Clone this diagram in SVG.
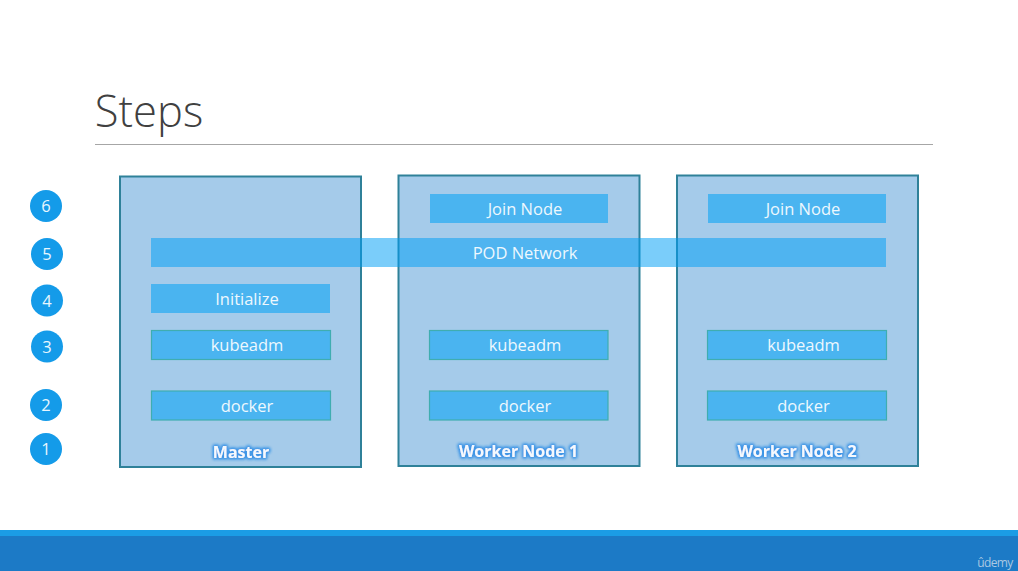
<svg xmlns="http://www.w3.org/2000/svg" width="1018" height="571" viewBox="0 0 1018 571">
  <defs>
    <filter id="glow" x="-20%" y="-60%" width="140%" height="220%">
      <feMorphology in="SourceAlpha" operator="dilate" radius="0.8" result="d"/>
      <feGaussianBlur in="d" stdDeviation="1.5" result="b"/>
      <feFlood flood-color="#3f96e6"/>
      <feComposite in2="b" operator="in" result="c"/>
      <feMerge><feMergeNode in="c"/><feMergeNode in="c"/><feMergeNode in="SourceGraphic"/></feMerge>
    </filter>
  </defs>
  <style>
    text { font-family: "Open Sans", "Noto Sans", "Liberation Sans", sans-serif; text-anchor: middle; }
    .node { fill: #a5cbea; stroke: #2f8199; stroke-width: 2; }
    .bar { fill: #4ab4f0; }
    .edged { fill: #4ab4f0; stroke: #3fadb0; stroke-width: 1.2; }
    .label { fill: #eef8fe; font-size: 16.500px; }
    .name { fill: #f4f9fe; font-size: 16px; font-weight: 700; filter: url(#glow); }
    .step { fill: #149be9; }
    .num { fill: #e8f6fe; font-size: 16.500px; }
  </style>
  <rect width="1018" height="571" fill="#ffffff"/>
  <text id="title" x="149" y="127" style="font-size:43.500px;font-weight:300" fill="#404040">Steps</text>
  <rect x="95" y="144" width="838" height="1" fill="#a6a6a6"/>
  <g id="footer">
    <rect x="0" y="530" width="1018" height="6" fill="#1b9ce5"/>
    <rect x="0" y="536" width="1018" height="35" fill="#1c7ac6"/>
    <text x="995" y="567" style="font-size:12px;letter-spacing:-0.600px" fill="#a9c8e2">ûdemy</text>
  </g>
  <g id="steps">
    <g id="step-6"><circle class="step" cx="46" cy="206" r="16"/><text class="num" x="46" y="212">6</text></g>
    <g id="step-5"><circle class="step" cx="47" cy="254" r="16"/><text class="num" x="47" y="260">5</text></g>
    <g id="step-4"><circle class="step" cx="47" cy="300.500" r="16"/><text class="num" x="47" y="306.500">4</text></g>
    <g id="step-3"><circle class="step" cx="47" cy="346.500" r="16"/><text class="num" x="47" y="352.500">3</text></g>
    <g id="step-2"><circle class="step" cx="46" cy="405" r="16"/><text class="num" x="46" y="411">2</text></g>
    <g id="step-1"><circle class="step" cx="46" cy="449" r="16"/><text class="num" x="46" y="455">1</text></g>
  </g>
  <g id="master">
    <rect class="node" x="120" y="176.500" width="241" height="290.500"/>
    <rect class="bar" x="151" y="284" width="179" height="29"/>
    <text class="label" x="247" y="304.500">Initialize</text>
    <rect class="edged" x="151.500" y="330.500" width="179" height="29"/>
    <text class="label" x="247" y="350.500">kubeadm</text>
    <rect class="edged" x="151.500" y="391" width="179" height="29"/>
    <text class="label" x="247" y="411.500">docker</text>
    <text class="name" x="241" y="457.500">Master</text>
  </g>
  <g id="worker-1">
    <rect class="node" x="398.500" y="175.500" width="241" height="290.500"/>
    <rect class="bar" x="430" y="194" width="178" height="29"/>
    <text class="label" x="525" y="214.500">Join Node</text>
    <rect class="edged" x="429.500" y="330.500" width="178.500" height="29"/>
    <text class="label" x="525" y="350.500">kubeadm</text>
    <rect class="edged" x="429.500" y="391" width="178.500" height="29"/>
    <text class="label" x="525" y="411.500">docker</text>
    <text class="name" x="518.500" y="456.500">Worker Node 1</text>
  </g>
  <g id="worker-2">
    <rect class="node" x="677" y="175.500" width="241" height="290.500"/>
    <rect class="bar" x="708" y="194" width="178" height="29"/>
    <text class="label" x="803" y="214.500">Join Node</text>
    <rect class="edged" x="707.500" y="330.500" width="179" height="29"/>
    <text class="label" x="803.500" y="350.500">kubeadm</text>
    <rect class="edged" x="707.500" y="391" width="179" height="29"/>
    <text class="label" x="803.500" y="411.500">docker</text>
    <text class="name" x="797" y="456.500">Worker Node 2</text>
  </g>
  <g id="pod-network">
    <rect x="151" y="238" width="735" height="29" fill="#00a0f5" fill-opacity="0.52"/>
    <text class="label" x="525" y="258.500">POD Network</text>
  </g>
  <g id="connectors"/>
</svg>
